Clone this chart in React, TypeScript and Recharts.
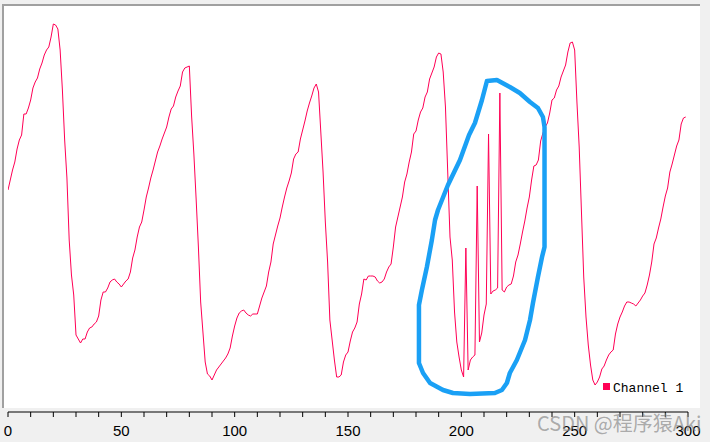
import React from 'react';
import { ComposedChart, Line, Scatter, XAxis, YAxis } from 'recharts';

const LINE_COLOR = '#ff0055';
const LOOP_COLOR = '#1aa0f5';
const seriesName = 'Channel 1';
const watermark = 'CSDN @程序猿Aki';

// Channel 1 samples (index 0..299)
const channel1 = [
  222, 232, 242, 250, 263, 272, 277, 298, 298, 304,
  312, 324, 330, 334, 343, 349, 357, 362, 365, 375,
  388, 387, 383, 362, 322, 272, 234, 172, 137, 117,
  77, 73, 69, 73, 73, 80, 84, 85, 88, 90,
  96, 112, 120, 120, 124, 130, 132, 133, 130, 128,
  125, 128, 131, 133, 140, 154, 162, 175, 185, 190,
  202, 215, 224, 234, 242, 251, 260, 266, 273, 279,
  285, 295, 303, 306, 315, 321, 326, 340, 344, 345,
  346, 296, 258, 213, 165, 110, 80, 50, 38, 36,
  32, 37, 42, 45, 48, 51, 54, 58, 64, 76,
  86, 94, 99, 101, 102, 99, 97, 96, 98, 98,
  98, 106, 114, 120, 126, 140, 150, 168, 177, 186,
  194, 205, 215, 224, 231, 239, 253, 258, 260, 273,
  282, 291, 301, 309, 316, 324, 328, 320, 280, 240,
  190, 150, 92, 72, 52, 35, 35, 37, 50, 57,
  60, 71, 80, 84, 90, 108, 118, 133, 132, 136,
  136, 136, 135, 131, 129, 130, 133, 140, 145, 148,
  165, 185, 195, 205, 215, 230, 238, 250, 260, 278,
  281, 292, 300, 304, 315, 320, 333, 339, 345, 355,
  359, 358, 340, 305, 240, 175, 152, 100, 70, 55,
  42, 35, 164, 42, 52, 55, 57, 226, 70, 79,
  97, 108, 278, 118, 121, 122, 124, 319, 122, 120,
  125, 127, 128, 136, 150, 157, 168, 180, 191, 204,
  215, 232, 246, 247, 252, 271, 279, 285, 289, 299,
  312, 314, 322, 326, 335, 341, 347, 360, 369, 370,
  362, 310, 265, 200, 135, 95, 67, 47, 32, 27,
  30, 35, 43, 46, 52, 57, 60, 62, 78, 88,
  95, 100, 106, 110, 110, 109, 108, 106, 109, 112,
  116, 119, 127, 137, 150, 168, 174, 184, 193, 205,
  216, 224, 240, 248, 257, 266, 272, 288, 294, 295,
];

// X axis ticks
const xTicks = [0, 10, 20, 30, 40, 50, 60, 70, 80, 90, 100, 110, 120, 130, 140, 150,
  160, 170, 180, 190, 200, 210, 220, 230, 240, 250, 260, 270, 280, 290, 300];
const labeledTicks = [0, 50, 100, 150, 200, 250, 300];

// Hand-drawn annotation loop (data coordinates)
const loopX = [211.3, 215.7, 221.4, 225.8, 230.3, 233.8, 236.0, 236.7, 236.7, 235.6,
  233.8, 231.6, 230.3, 228.1, 224.5, 221.4, 220.1, 217.9, 214.8, 203.8,
  196.3, 191.9, 186.2, 183.1, 181.3, 181.3, 182.6, 184.8, 187.0, 188.4,
  189.7, 194.1, 199.4, 203.4, 206.0, 209.1, 211.3];
const loopV = [331, 332, 325, 319, 310, 304, 295, 285, 165, 155,
  135, 109, 92, 72, 52, 39, 29, 22, 19, 18,
  19, 22, 29, 39, 49, 107, 122, 145, 172, 192,
  202, 227, 252, 277, 289, 312, 331];

const data = channel1.map((v, i) => ({ x: i, v }));
const loopData = loopX.map((x, i) => ({ x, v: loopV[i] }));

export default function App() {
  return (
    <div style={{ position: 'absolute', left: 0, top: 0, width: 710, height: 442, background: '#f0f0f0', overflow: 'hidden' }}>
      <div style={{ position: 'absolute', left: 2, top: 4, width: 698, height: 404, background: '#ffffff', borderLeft: '2px solid #a0a0a0', borderTop: '2px solid #a0a0a0', boxSizing: 'border-box' }} />
      <div style={{ position: 'absolute', left: 0, top: 0 }}>
        <ComposedChart width={710} height={442} data={data} margin={{ top: 5, right: 22, bottom: 0, left: 8 }}>
          <XAxis
            dataKey="x"
            type="number"
            domain={[0, 300]}
            ticks={xTicks}
            interval={0}
            tickSize={5}
            tickMargin={8}
            height={30}
            stroke="#000"
            allowDataOverflow
            tick={{ fill: '#000', fontSize: 15, fontFamily: 'Liberation Sans' }}
            tickFormatter={(t: number) => (labeledTicks.includes(t) ? String(t) : '')}
          />
          <YAxis dataKey="v" type="number" domain={[0, 407]} hide />
          <Line dataKey="v" name={seriesName} type="linear" stroke={LINE_COLOR} strokeWidth={1} dot={false} activeDot={false} isAnimationActive={false} />
          <Scatter
            data={loopData}
            dataKey="v"
            fill={LOOP_COLOR}
            line={{ stroke: LOOP_COLOR, strokeWidth: 4.5, strokeLinejoin: 'round', strokeLinecap: 'round' }}
            shape={() => <g />}
            isAnimationActive={false}
          />
        </ComposedChart>
      </div>
      <div style={{ position: 'absolute', left: 603, top: 383, width: 7, height: 7, background: LINE_COLOR }} />
      <div style={{ position: 'absolute', left: 613, top: 381, fontSize: 13, lineHeight: '16px', fontFamily: 'Liberation Mono', color: '#000', whiteSpace: 'nowrap' }}>{seriesName}</div>
      <div style={{ position: 'absolute', left: 537, top: 413, fontSize: 20, lineHeight: '20px', fontFamily: '"Noto Sans CJK SC", "Noto Sans"', color: 'rgba(130,130,130,0.65)', whiteSpace: 'nowrap' }}>{watermark}</div>
    </div>
  );
}
